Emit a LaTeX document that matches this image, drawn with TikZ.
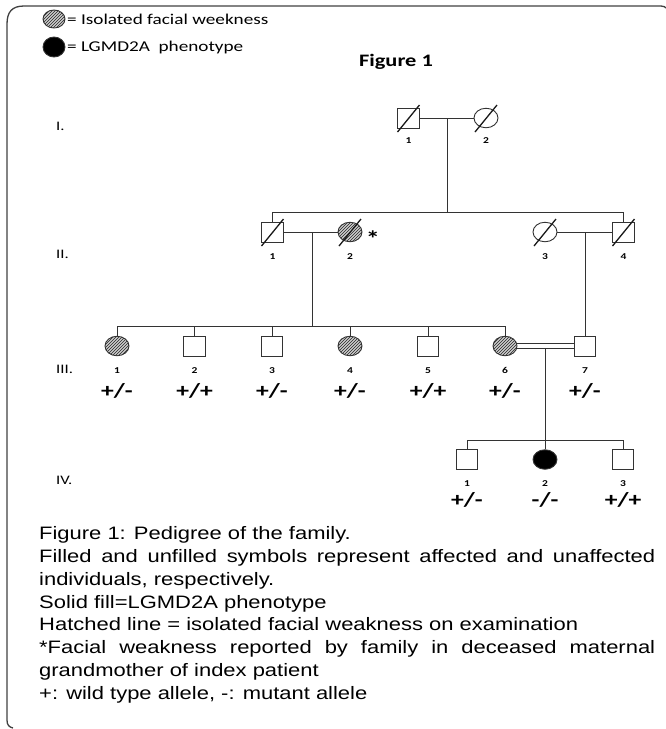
\documentclass[tikz,border=0pt]{standalone}
\usepackage{fontspec}
\usetikzlibrary{shapes.geometric,patterns,calc}
\newfontfamily\capfont{Liberation Sans}[FakeStretch=1.22]
\newfontfamily\calfont{Carlito}[FakeStretch=1.28]
\begin{document}
\begin{tikzpicture}[x=1pt,y=-1pt,
  ln/.style={draw=black!80,line width=0.9pt},
  male/.style={ln,rectangle,minimum width=21.5pt,minimum height=20pt,inner sep=0pt},
  female/.style={ln,ellipse,minimum width=24pt,minimum height=19.5pt,inner sep=0pt},
  hatch/.style={preaction={fill=gray!40},pattern=north east lines,pattern color=black!85},
  lgmd/.style={fill=black},
  slash/.style={draw=black!90,line width=1.3pt},
  num/.style={font=\calfont\bfseries\fontsize{9}{10}\selectfont,anchor=base,inner sep=0pt},
  geno/.style={font=\calfont\bfseries\fontsize{20}{22}\selectfont,anchor=base,inner sep=0pt},
  gen/.style={font=\calfont\fontsize{13}{15}\selectfont,anchor=base west,inner sep=0pt},
  legtext/.style={font=\calfont\fontsize{15}{18}\selectfont,anchor=west,inner sep=0pt},
  capline/.style={font=\capfont\fontsize{18}{22}\selectfont,anchor=base west,inner sep=0pt},
  conn/.style={draw=black!80,line width=0.9pt}
]
\useasboundingbox (0,0) rectangle (666,729);
% frame
\draw[draw=black!75,line width=1.3pt] (13,728) .. controls (9,727) and (7,725) .. (7,720) -- (7,24) .. controls (7,12) and (12,6) .. (24,6) -- (661,6) .. controls (664,6) and (665,7) .. (666,8);

% legend
\node[female,hatch,minimum width=22pt,minimum height=18pt] (legH) at (54,19) {};
\node[legtext] (legHt) at (67,19) {= Isolated facial weekness};
\node[female,lgmd,minimum width=22pt,minimum height=20pt] (legS) at (54,47) {};
\node[legtext] (legSt) at (67,47) {= LGMD2A~~phenotype};
\node[anchor=base,inner sep=0pt,font=\calfont\bfseries\fontsize{17.5}{20}\selectfont] (title) at (396,66) {Figure 1};

% generation labels
\node[gen] (gI) at (56,130) {I.};
\node[gen] (gII) at (56,258) {II.};
\node[gen] (gIII) at (56,373) {III.};
\node[gen] (gIV) at (56,484) {IV.};

% generation I
\node[male] (I1) at (408.5,118) {};
\node[female] (I2) at (486,118) {};
% generation II
\node[male] (II1) at (272.5,232) {};
\node[female,hatch] (II2) at (350,232) {};
\node[female] (II3) at (545,232) {};
\node[male] (II4) at (623.5,232) {};
% generation III
\node[female,hatch] (III1) at (117,346) {};
\node[male] (III2) at (194.5,346) {};
\node[male] (III3) at (272,346) {};
\node[female,hatch] (III4) at (350,346) {};
\node[male] (III5) at (428,346) {};
\node[female,hatch] (III6) at (505,346) {};
\node[male] (III7) at (585,346) {};
% generation IV
\node[male] (IV1) at (467,459.5) {};
\node[female,lgmd] (IV2) at (545,459.5) {};
\node[male] (IV3) at (623,459.5) {};

% deceased slashes
\foreach \p in {I1,I2,II1,II2,II3,II4}
  \draw[slash] ($(\p.center)+(-11,14)$) -- ($(\p.center)+(11,-13)$);
\node[anchor=base,inner sep=0pt,font=\calfont\bfseries\fontsize{22}{24}\selectfont] (ast) at (373,246) {*};

% connectors
\coordinate (mI) at (447,118);
\coordinate (sII) at (447,212);
\draw[conn] (I1.east) -- (I2.west);
\draw[conn] (mI) -- (sII);
\draw[conn] (II1.north) -- (II1 |- sII) -- (II4 |- sII) -- (II4.north);

\coordinate (mII) at (312,232);
\coordinate (sIII) at (312,326);
\draw[conn] (II1.east) -- (II2.west);
\draw[conn] (mII) -- (sIII);
\draw[conn] (III1.north) -- (III1 |- sIII) -- (III6 |- sIII) -- (III6.north);
\foreach \c in {III2,III3,III4,III5}
  \draw[conn] (\c |- sIII) -- (\c.north);

\coordinate (mII2) at (585,232);
\draw[conn] (II3.east) -- (II4.west);
\draw[conn] (mII2) -- (III7.north);

\coordinate (dA) at ($(III6.east)+(0,2.4)$);
\coordinate (dB) at ($(III6.east)+(0,-2.4)$);
\draw[conn] (dA) -- (dA -| III7.west);
\draw[conn] (dB) -- (dB -| III7.west);
\coordinate (mIII) at (545,348.4);
\coordinate (sIV) at (545,440);
\draw[conn] (mIII) -- (sIV);
\draw[conn] (IV1.north) -- (IV1 |- sIV) -- (IV3 |- sIV) -- (IV3.north);
\draw[conn] (sIV) -- (IV2.north);

% numbers
\node[num] (nI1) at (408.5,143) {1};
\node[num] (nI2) at (486,143) {2};
\foreach \p/\t in {II1/1,II2/2,II3/3,II4/4}
  \node[num] (n\p) at ($(\p.center)+(0,27)$) {\t};
\foreach \p/\t in {III1/1,III2/2,III3/3,III4/4,III5/5,III6/6,III7/7}
  \node[num] (n\p) at ($(\p.center)+(0,27.5)$) {\t};
\foreach \p/\t in {IV1/1,IV2/2,IV3/3}
  \node[num] (n\p) at ($(\p.center)+(0,26.5)$) {\t};

% genotypes
\node[geno] (gIII1) at ($(III1.center)+(0,51)$) {+/-};
\node[geno] (gIII2) at ($(III2.center)+(0,51)$) {+/+};
\node[geno] (gIII3) at ($(III3.center)+(0,51)$) {+/-};
\node[geno] (gIII4) at ($(III4.center)+(0,51)$) {+/-};
\node[geno] (gIII5) at ($(III5.center)+(0,51)$) {+/+};
\node[geno] (gIII6) at ($(III6.center)+(0,51)$) {+/-};
\node[geno] (gIII7) at ($(III7.center)+(0,51)$) {+/-};
\node[geno] (gIV1) at ($(IV1.center)+(0,46.5)$) {+/-};
\node[geno] (gIV2) at ($(IV2.center)+(0,46.5)$) {-/-};
\node[geno] (gIV3) at ($(IV3.center)+(0,46.5)$) {+/+};

% caption, one node per printed line
\node[capline] (c1) at (39,539) {Figure 1: Pedigree of the family.};
\node[capline] (c2) at (39,562) {\makebox[616pt][s]{Filled and unfilled symbols represent affected and unaffected}};
\node[capline] (c3) at (39,585) {individuals, respectively.};
\node[capline] (c4) at (39,608) {Solid fill=LGMD2A phenotype};
\node[capline] (c5) at (39,630.5) {Hatched line = isolated facial weakness on examination};
\node[capline] (c6) at (39,653.5) {\makebox[616pt][s]{*Facial weakness reported by family in deceased maternal}};
\node[capline] (c7) at (39,676.5) {grandmother of index patient};
\node[capline] (c8) at (39,699.5) {+: wild type allele, -: mutant allele};
\end{tikzpicture}
\end{document}
